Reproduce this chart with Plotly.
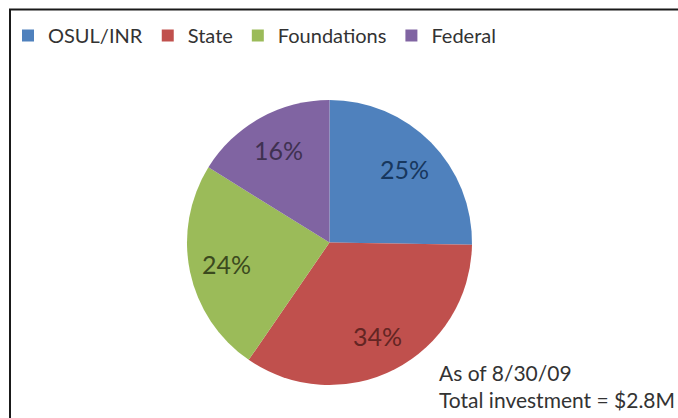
import math
import plotly.graph_objects as go

categories = ["OSUL/INR", "State", "Foundations", "Federal"]
shares = [25, 34, 24, 16]
slice_colors = ["#4F81BD", "#C0504D", "#9BBB59", "#8064A2"]
label_colors = ["#17375E", "#632523", "#3B4A1E", "#3F3151"]
note_lines = ["As of 8/30/09", "Total investment = $2.8M"]

W, H = 678, 418
FONT = "Lato"

# pie placement (pixels)
left, right, top, bottom = 187, 472, 100, 385
cx, cy = (left + right) / 2, (top + bottom) / 2
R = (right - left) / 2
LABEL_RING = 0.74

fig = go.Figure(go.Pie(
    labels=categories,
    values=shares,
    sort=False,
    direction="clockwise",
    rotation=0,
    marker=dict(colors=slice_colors, line=dict(width=0)),
    textinfo="none",
    hoverinfo="label+percent",
    domain=dict(x=[left / W, right / W], y=[1 - bottom / H, 1 - top / H]),
))

# percentage labels placed at the middle angle of each slice
annotations = []
total = sum(shares)
cum = 0
for v, col in zip(shares, label_colors):
    mid = (cum + v / 2) / total * 2 * math.pi
    cum += v
    px = cx + LABEL_RING * R * math.sin(mid)
    py = cy - LABEL_RING * R * math.cos(mid)
    annotations.append(dict(
        text=f"{v}%", xref="paper", yref="paper",
        x=px / W, y=1 - py / H, xanchor="center", yanchor="middle",
        showarrow=False, font=dict(family=FONT, size=25, color=col),
    ))

annotations.append(dict(
    text="<br>".join(note_lines),
    xref="paper", yref="paper",
    x=437 / W, y=1 - 358 / H,
    xanchor="left", yanchor="top",
    align="left", showarrow=False,
    font=dict(family=FONT, size=21, color="#333333"),
))

fig.update_layout(
    width=W, height=H,
    margin=dict(l=0, r=0, t=0, b=0),
    paper_bgcolor="white",
    plot_bgcolor="white",
    font=dict(family=FONT, color="#333333"),
    legend=dict(
        orientation="h",
        x=8 / W, xanchor="left",
        y=1 - 16 / H, yanchor="top",
        bgcolor="rgba(0,0,0,0)",
        font=dict(family=FONT, size=20, color="#333333"),
        traceorder="normal",
    ),
    annotations=annotations,
    shapes=[dict(
        type="rect", xref="paper", yref="paper",
        x0=10 / W, x1=1.05, y0=-0.05, y1=1 - 9.5 / H,
        line=dict(color="#1a1a1a", width=2),
        fillcolor="rgba(0,0,0,0)", layer="above",
    )],
)

fig.write_html("out.html")
